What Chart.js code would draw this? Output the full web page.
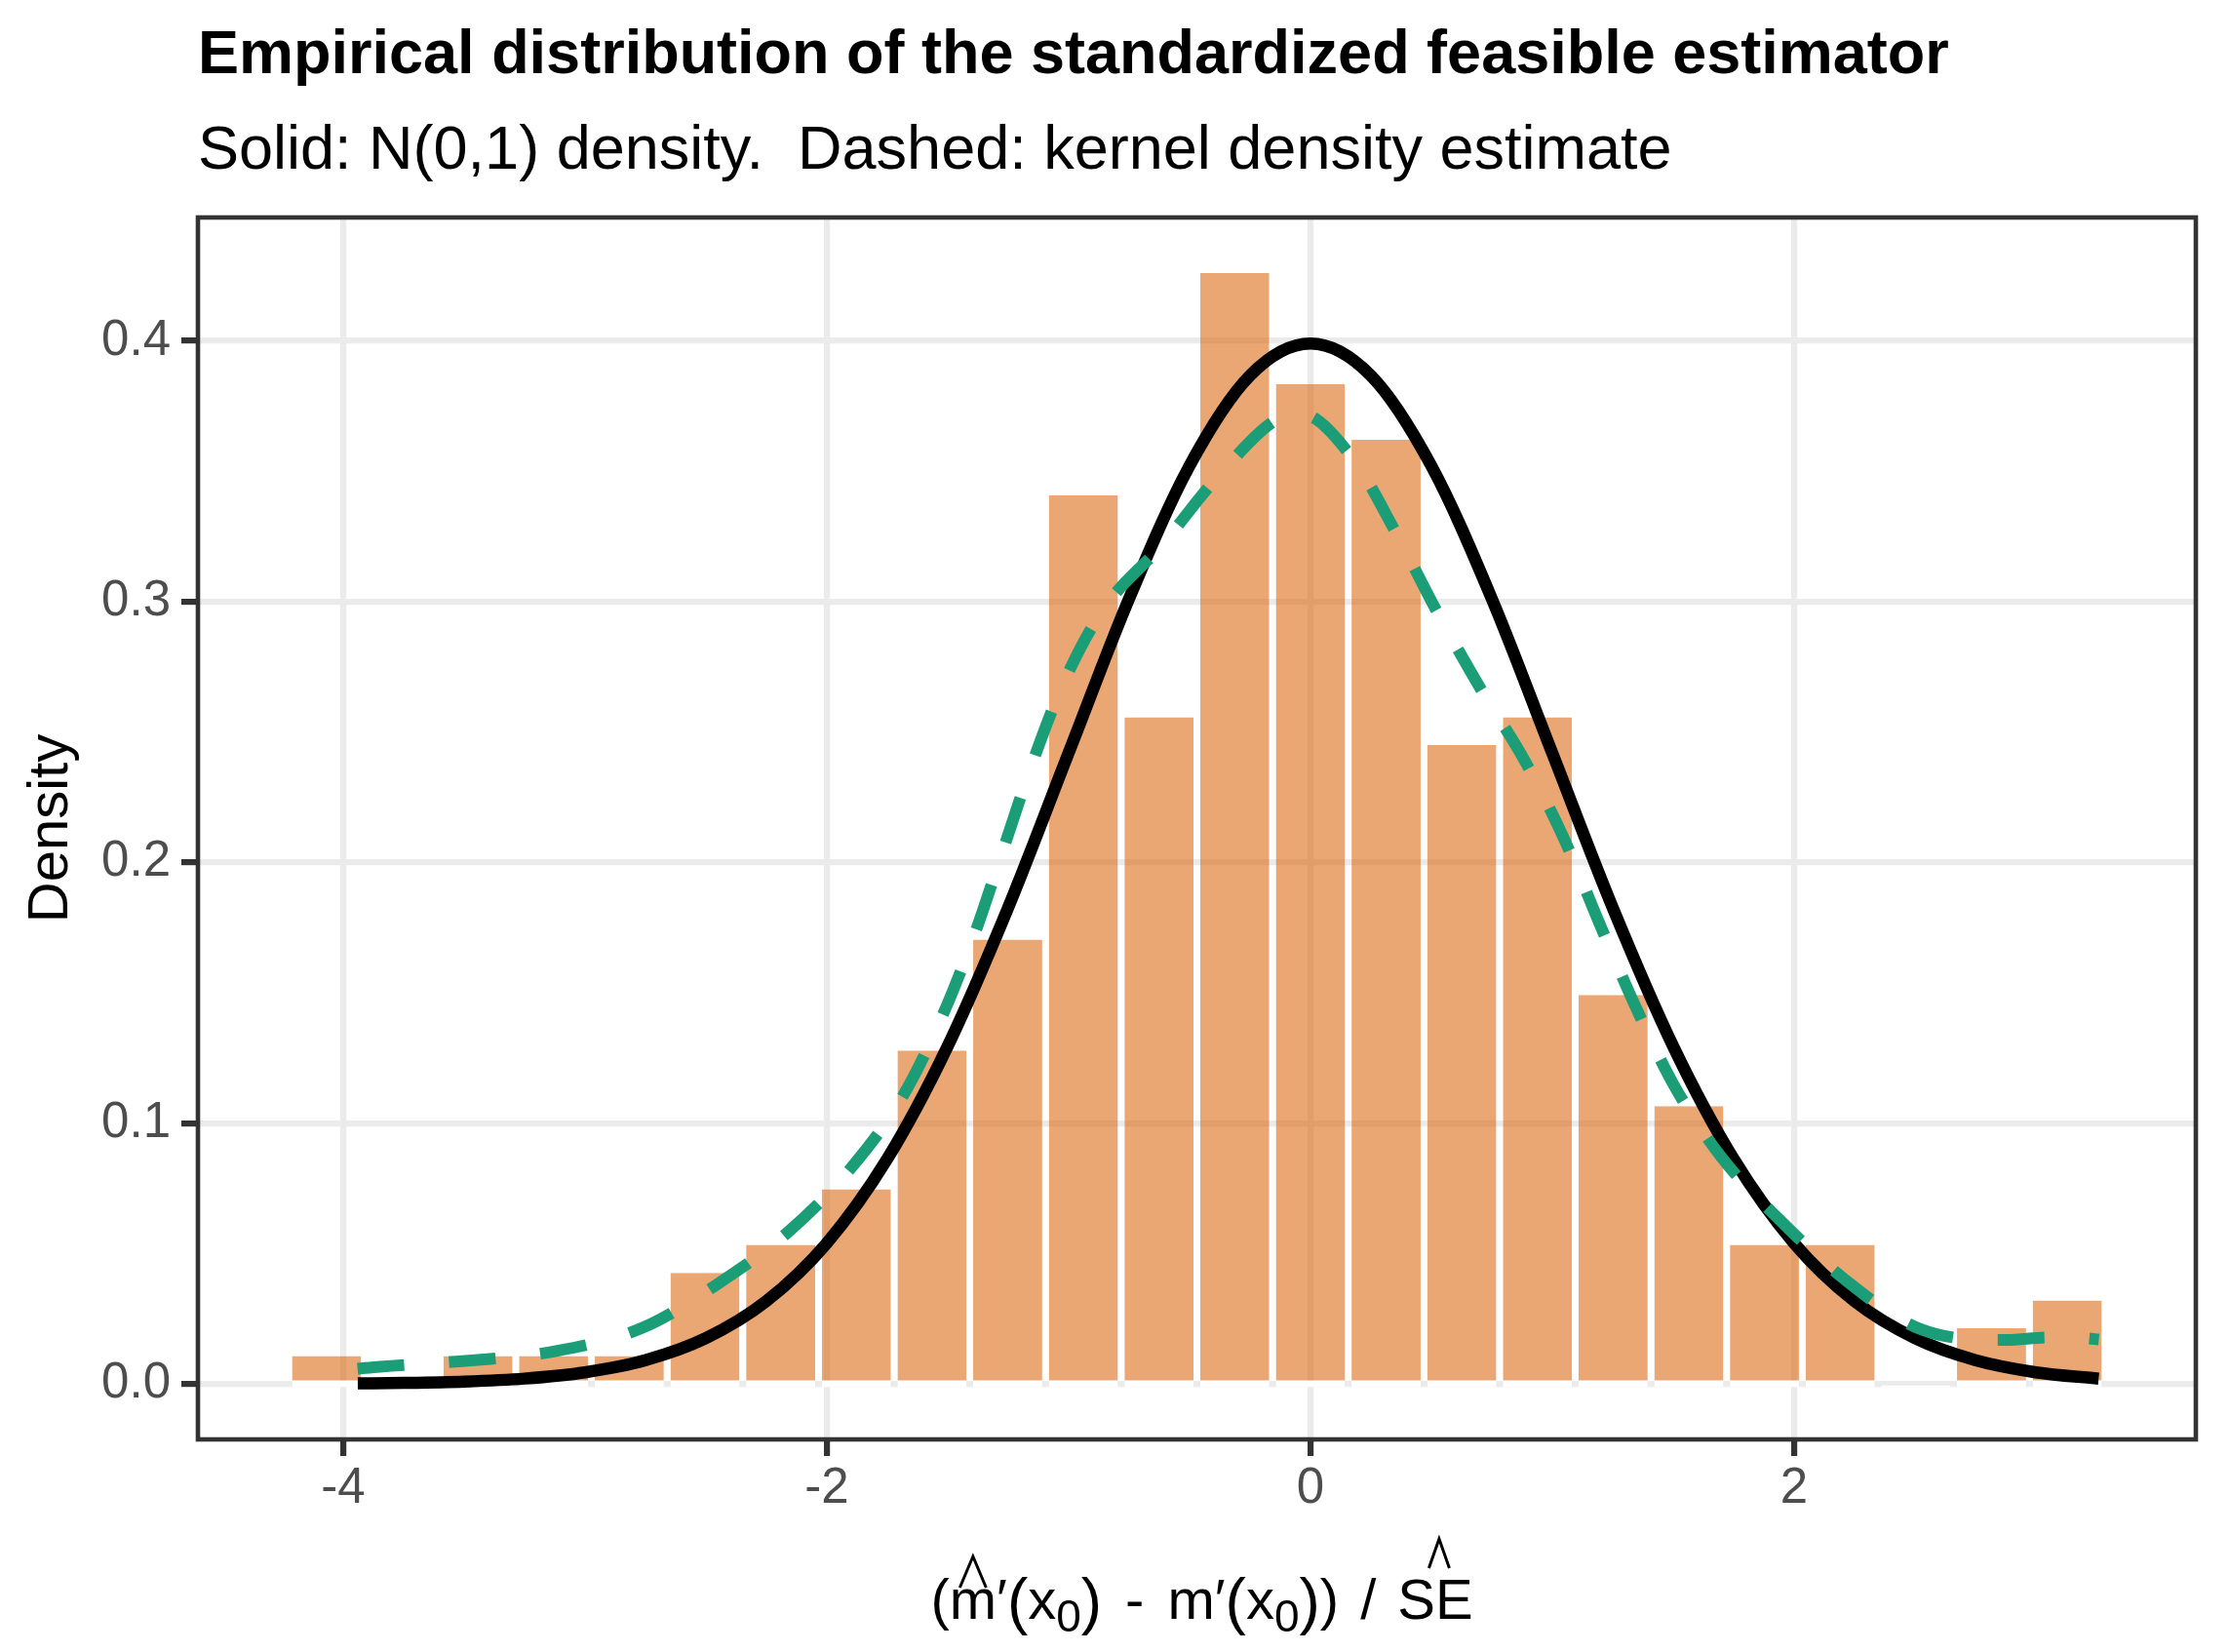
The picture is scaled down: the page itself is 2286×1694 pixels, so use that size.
<!DOCTYPE html>
<html>
<head>
<meta charset="utf-8">
<title>Empirical distribution of the standardized feasible estimator</title>
<script src="https://cdn.jsdelivr.net/npm/chart.js@4.4.1/dist/chart.umd.min.js"></script>
<style>
  html, body { margin: 0; padding: 0; background: #ffffff; }
  #chart { display: block; }
</style>
</head>
<body>
<canvas id="chart" width="2286" height="1694"></canvas>
<script>
// histogram: bin mid points and densities (24 bins of width 0.313)
const binMids = [-4.069, -3.756, -3.443, -3.130, -2.817, -2.504, -2.191, -1.878,
                 -1.565, -1.252, -0.939, -0.626, -0.313, 0, 0.313, 0.626,
                 0.939, 1.252, 1.565, 1.878, 2.191, 2.504, 2.817, 3.130];
const binDensity = [0.0107, 0, 0.0107, 0.0107, 0.0107, 0.0426, 0.0533, 0.0746,
                    0.1278, 0.1704, 0.3408, 0.2556, 0.4260, 0.3834, 0.3621, 0.2450,
                    0.2556, 0.1491, 0.1065, 0.0533, 0.0533, 0, 0.0213, 0.0320];

// solid curve, N(0,1) density
const normX = [-3.94, -3.75, -3.5, -3.25, -3.0, -2.75, -2.5, -2.25, -2.0, -1.75,
               -1.5, -1.25, -1.0, -0.75, -0.5, -0.25, 0, 0.25, 0.5, 0.75,
               1.0, 1.25, 1.5, 1.75, 2.0, 2.25, 2.5, 2.75, 3.0, 3.26];
const normY = [0.00017, 0.00035, 0.00087, 0.00203, 0.00443, 0.00909, 0.01753, 0.03174, 0.05399, 0.08628,
               0.12952, 0.18265, 0.24197, 0.30114, 0.35207, 0.38667, 0.39894, 0.38667, 0.35207, 0.30114,
               0.24197, 0.18265, 0.12952, 0.08628, 0.05399, 0.03174, 0.01753, 0.00909, 0.00443, 0.00198];

// dashed curve, kernel density estimate
const kdeX = [-3.941, -3.848, -3.482, -3.119, -2.765, -2.455, -2.158, -1.906, -1.690, -1.529,
              -1.394, -1.277, -1.160, -1.031, -0.863, -0.612, -0.387, -0.117, -0.04, 0.172,
              0.352, 0.523, 0.703, 0.891, 1.053, 1.197, 1.341, 1.503, 1.700, 1.943,
              2.213, 2.518, 2.878, 3.05, 3.207, 3.261];
const kdeY = [0.0058, 0.0066, 0.0089, 0.0126, 0.0214, 0.0381, 0.0584, 0.0821, 0.1097, 0.1397,
              0.1711, 0.2031, 0.2354, 0.2667, 0.2962, 0.3219, 0.3475, 0.3709, 0.3720, 0.3553,
              0.3267, 0.2962, 0.2667, 0.2382, 0.2082, 0.1762, 0.1454, 0.1146, 0.0869, 0.0627,
              0.0398, 0.0212, 0.0168, 0.0178, 0.0175, 0.0170];

const xTicks = [-4, -2, 0, 2];
const yTicks = [0, 0.1, 0.2, 0.3, 0.4];
const xRange = [-4.601, 3.662];
const yRange = [-0.0213, 0.4473];

const titleText = "Empirical distribution of the standardized feasible estimator";
const subtitleText = "Solid: N(0,1) density.  Dashed: kernel density estimate";

// x axis title, plotmath style: (m-hat'(x0) - m'(x0)) / SE-hat
const xLabelParts = [
    { t: "(" },
    { t: "m", hat: { w: 27, top: 64, bottom: 32, dx: 0 } },
    { t: "\u2032" },
    { t: "(", big: true },
    { t: "x" },
    { t: "0", sub: true },
    { t: ")", big: true },
    { t: "-", padL: 24, padR: 24 },
    { t: "m" },
    { t: "\u2032" },
    { t: "(", big: true },
    { t: "x" },
    { t: "0", sub: true },
    { t: ")", big: true },
    { t: ")" },
    { t: "/", padL: 22, padR: 22 },
    { t: "SE", hat: { w: 21, top: 82, bottom: 52, dx: 4 } }
];

const FONT = '"Liberation Sans", Arial, sans-serif';
Chart.defaults.font.family = FONT;

const barFill = 'rgba(217, 95, 2, 0.55)';

function drawXLabel(c, cx, baseY) {
    let pieces = xLabelParts.map(p => {
        let fs = p.sub ? 46 : (p.big ? 64 : 58);
        c.font = fs + 'px ' + FONT;
        return Object.assign({}, p, { fs: fs, w: c.measureText(p.t).width });
    });
    let total = pieces.reduce((s, p) => s + (p.padL || 0) + p.w + (p.padR || 0), 0);
    let x = cx - total / 2;
    c.fillStyle = '#000000';
    c.strokeStyle = '#000000';
    c.textAlign = 'left';
    c.textBaseline = 'alphabetic';
    pieces.forEach(p => {
        x += p.padL || 0;
        c.font = p.fs + 'px ' + FONT;
        let y = baseY + (p.sub ? 13 : (p.big ? 4 : 0));
        c.fillText(p.t, x, y);
        if (p.hat) {
            let hx = x + p.w / 2 + p.hat.dx;
            c.lineWidth = 3;
            c.lineJoin = 'miter';
            c.beginPath();
            c.moveTo(hx - p.hat.w / 2, baseY - p.hat.bottom);
            c.lineTo(hx, baseY - p.hat.top);
            c.lineTo(hx + p.hat.w / 2, baseY - p.hat.bottom);
            c.stroke();
        }
        x += p.w + (p.padR || 0);
    });
}

const ggDecor = {
    id: 'ggDecor',
    beforeDraw(chart) {
        let c = chart.ctx;
        c.save();
        c.fillStyle = '#ffffff';
        c.fillRect(0, 0, chart.width, chart.height);
        c.restore();
    },
    afterDraw(chart) {
        let c = chart.ctx, a = chart.chartArea;
        c.save();
        // panel border
        c.strokeStyle = '#333333';
        c.lineWidth = 4.6;
        c.strokeRect(a.left, a.top, a.right - a.left, a.bottom - a.top);
        // title and subtitle
        c.fillStyle = '#000000';
        c.textAlign = 'left';
        c.textBaseline = 'alphabetic';
        c.font = 'bold 63px ' + FONT;
        c.fillText(titleText, a.left, 75);
        c.font = '63px ' + FONT;
        c.fillText(subtitleText, a.left, 173);
        drawXLabel(c, (a.left + a.right) / 2 + 5, 1660);
        c.restore();
    }
};

let gridOpts = {
    color: '#EBEBEB',
    lineWidth: 6.2,
    drawTicks: true,
    tickLength: 17,
    tickColor: '#333333',
    tickWidth: 6.2,
    offset: false
};

let ctx = document.getElementById('chart').getContext('2d');

new Chart(ctx, {
    type: 'bar',
    data: {
        datasets: [
            {
                type: 'line',
                label: 'Kernel density estimate',
                data: kdeX.map((x, i) => ({ x: x, y: kdeY[i] })),
                borderColor: '#1B9E77',
                borderWidth: 12,
                borderDash: [48, 46],
                borderCapStyle: 'butt',
                pointRadius: 0,
                fill: false,
                cubicInterpolationMode: 'monotone',
                order: 1
            },
            {
                type: 'line',
                label: 'N(0,1) density',
                data: normX.map((x, i) => ({ x: x, y: normY[i] })),
                borderColor: '#000000',
                borderWidth: 12.5,
                borderCapStyle: 'butt',
                pointRadius: 0,
                fill: false,
                cubicInterpolationMode: 'monotone',
                order: 2
            },
            {
                type: 'bar',
                label: 'Histogram',
                data: binMids.map((m, i) => ({ x: m, y: binDensity[i] })),
                backgroundColor: c => (c.raw && c.raw.y === 0) ? 'rgba(255,255,255,0)' : barFill,
                borderColor: '#ffffff',
                borderWidth: { top: 0, left: 0, right: 0, bottom: 7 },
                borderSkipped: false,
                base: -0.0013,
                barPercentage: 0.913,
                categoryPercentage: 1,
                order: 3
            }
        ]
    },
    options: {
        responsive: false,
        devicePixelRatio: 1,
        animation: false,
        layout: { padding: { top: 223, right: 34, left: 0, bottom: 0 } },
        plugins: {
            legend: { display: false },
            tooltip: { enabled: false },
            title: { display: false }
        },
        scales: {
            x: {
                type: 'linear',
                min: xRange[0],
                max: xRange[1],
                offset: false,
                afterBuildTicks: s => { s.ticks = xTicks.map(v => ({ value: v })); },
                afterFit: s => { s.height = 218; },
                grid: gridOpts,
                border: { display: false },
                ticks: {
                    color: '#4D4D4D',
                    font: { size: 51 },
                    padding: 3,
                    maxRotation: 0,
                    autoSkip: false,
                    callback: v => String(v)
                },
                title: { display: false }
            },
            y: {
                type: 'linear',
                min: yRange[0],
                max: yRange[1],
                afterBuildTicks: s => { s.ticks = yTicks.map(v => ({ value: v })); },
                afterFit: s => { s.width = 203; },
                grid: gridOpts,
                border: { display: false },
                ticks: {
                    color: '#4D4D4D',
                    font: { size: 51 },
                    padding: 11,
                    autoSkip: false,
                    callback: v => v.toFixed(1)
                },
                title: {
                    display: true,
                    text: 'Density',
                    color: '#000000',
                    font: { size: 58 },
                    padding: { top: 18, bottom: 0 }
                }
            }
        }
    },
    plugins: [ggDecor]
});
</script>
</body>
</html>
